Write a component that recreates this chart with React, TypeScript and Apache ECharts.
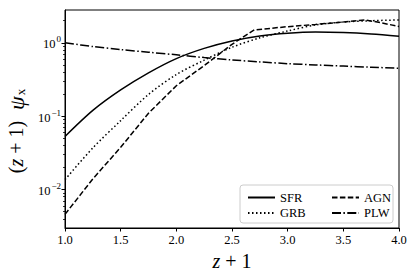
import React, { useEffect, useRef } from "react";
import * as echarts from "echarts";

// ---- data ----
const zGrid = [1.0, 1.25, 1.5, 1.75, 2.0, 2.25, 2.5, 2.75, 3.0, 3.25, 3.5, 3.75, 4.0];
const sfr = [0.053, 0.12, 0.228, 0.39, 0.61, 0.84, 1.06, 1.24, 1.35, 1.4, 1.38, 1.32, 1.23];
const grb = [0.0137, 0.037, 0.087, 0.198, 0.37, 0.58, 0.87, 1.17, 1.45, 1.75, 1.92, 2.0, 2.05];
const plw = [1.0, 0.89, 0.81, 0.745, 0.687, 0.63, 0.585, 0.55, 0.52, 0.5, 0.482, 0.465, 0.45];
const zAgn = [1.0, 1.25, 1.5, 1.75, 2.0, 2.25, 2.5, 2.7, 3.0, 3.25, 3.5, 3.7, 3.85, 4.0];
const agn = [0.0046, 0.014, 0.0377, 0.11, 0.26, 0.49, 0.955, 1.5, 1.66, 1.78, 1.92, 2.05, 1.86, 1.67];

const xMin = 1.0;
const xMax = 4.0;
const xStep = 0.5;
const yMin = 0.003;
const yMax = 2.8;
const yMajor = [0.01, 0.1, 1];
const yMinor = [
  0.004, 0.005, 0.006, 0.007, 0.008, 0.009,
  0.02, 0.03, 0.04, 0.05, 0.06, 0.07, 0.08, 0.09,
  0.2, 0.3, 0.4, 0.5, 0.6, 0.7, 0.8, 0.9,
  2,
];

const FONT = "Liberation Serif";

const pairs = (xs: number[], ys: number[]) => xs.map((x, i) => [x, ys[i]]);

export default function App() {
  const ref = useRef<HTMLDivElement>(null);
  useEffect(() => {
    if (!ref.current) return;
    const chart = echarts.init(ref.current, null, { renderer: "svg" });
    const lineBase = { type: "line", symbol: "none", showSymbol: false, yAxisIndex: 0 };
    const legendBase = {
      orient: "vertical",
      top: 186,
      itemWidth: 27,
      itemHeight: 14,
      itemGap: 2.5,
      itemStyle: { opacity: 0 },
      textStyle: { fontFamily: FONT, fontSize: 12.5, color: "#000" },
      z: 5,
    };
    chart.setOption({
      animation: false,
      backgroundColor: "#fff",
      textStyle: { fontFamily: FONT },
      grid: {
        left: 65,
        right: 17,
        top: 10,
        bottom: 49,
        containLabel: false,
        outerBoundsMode: "none",
        show: true,
        borderColor: "#000",
        borderWidth: 1,
        backgroundColor: "transparent",
      },
      xAxis: {
        type: "value",
        min: xMin,
        max: xMax,
        interval: xStep,
        axisLine: { lineStyle: { color: "#000", width: 1 } },
        axisTick: { length: 3.5, lineStyle: { color: "#000" } },
        axisLabel: {
          formatter: (v: number) => v.toFixed(1),
          color: "#000",
          fontFamily: FONT,
          fontSize: 12.5,
          margin: 5,
        },
        splitLine: { show: false },
        name: "{i|z}{a| + 1}",
        nameLocation: "middle",
        nameGap: 20,
        nameTextStyle: {
          rich: {
            i: { fontFamily: FONT, fontStyle: "italic", fontSize: 20, color: "#000" },
            a: { fontFamily: FONT, fontSize: 20, color: "#000" },
          },
        },
      },
      yAxis: [
        {
          type: "log",
          min: yMin,
          max: yMax,
          position: "left",
          axisLine: { lineStyle: { color: "#000", width: 1 } },
          axisTick: { length: 3.5, customValues: yMajor, lineStyle: { color: "#000" } },
          axisLabel: {
            customValues: yMajor,
            margin: 4,
            formatter: (v: number) => {
              const e = Math.round(Math.log10(v));
              const s = e < 0 ? "\u2212" + Math.abs(e) : String(e);
              return "{b|10}{s|" + s + "}";
            },
            rich: {
              b: { fontFamily: FONT, fontSize: 12.5, color: "#000", lineHeight: 16, verticalAlign: "bottom" },
              s: { fontFamily: FONT, fontSize: 9, color: "#000", lineHeight: 16, verticalAlign: "top", padding: [0, 0, 0, 1] },
            },
          },
          splitLine: { show: false },
          name: "{a|(}{i|z}{a| + 1)}{sp| }{i2|ψ}{sub|x}",
          nameLocation: "middle",
          nameRotate: 90,
          nameGap: 36,
          nameTextStyle: {
            padding: [0, 24, 0, 0],
            rich: {
              a: { fontFamily: FONT, fontSize: 20, color: "#000", lineHeight: 22 },
              i: { fontFamily: FONT, fontStyle: "italic", fontSize: 20, color: "#000", lineHeight: 22 },
              sp: { fontFamily: FONT, fontSize: 16, width: 11, lineHeight: 22 },
              i2: { fontFamily: FONT, fontStyle: "italic", fontSize: 22, color: "#000", lineHeight: 22 },
              sub: { fontFamily: FONT, fontSize: 13, color: "#000", lineHeight: 22, verticalAlign: "bottom", padding: [0, 0, 0, 1] },
            },
          },
        },
        {
          type: "log",
          min: yMin,
          max: yMax,
          position: "left",
          axisLine: { show: false },
          axisTick: { length: 2, customValues: yMinor, lineStyle: { color: "#000", width: 0.8 } },
          axisLabel: { show: false },
          splitLine: { show: false },
        },
      ],
      legend: [
        { ...legendBase, data: ["SFR", "GRB"], left: 242 },
        { ...legendBase, data: ["AGN", "PLW"], left: 326 },
      ],
      graphic: [
        {
          type: "rect",
          z: 4,
          shape: { x: 240, y: 185, width: 153, height: 38, r: 3 },
          style: { fill: "rgba(255,255,255,0.85)", stroke: "#cccccc", lineWidth: 1 },
        },
      ],
      series: [
        {
          ...lineBase,
          name: "SFR",
          smooth: 0.3,
          data: pairs(zGrid, sfr),
          lineStyle: { color: "#000", width: 1.5, type: "solid" },
          itemStyle: { color: "#000" },
        },
        {
          ...lineBase,
          name: "GRB",
          smooth: 0.3,
          data: pairs(zGrid, grb),
          lineStyle: { color: "#000", width: 1.5, type: [1.5, 2.5] },
          itemStyle: { color: "#000" },
        },
        {
          ...lineBase,
          name: "AGN",
          smooth: false,
          data: pairs(zAgn, agn),
          lineStyle: { color: "#000", width: 1.5, type: [5.5, 2.4] },
          itemStyle: { color: "#000" },
        },
        {
          ...lineBase,
          name: "PLW",
          smooth: 0.3,
          data: pairs(zGrid, plw),
          lineStyle: { color: "#000", width: 1.5, type: [9, 2.4, 1.5, 2.4] },
          itemStyle: { color: "#000" },
        },
      ],
    });
    return () => chart.dispose();
  }, []);
  return (
    <div
      ref={ref}
      style={{ position: "fixed", left: 0, top: 0, width: 416, height: 277, background: "#fff" }}
    />
  );
}
